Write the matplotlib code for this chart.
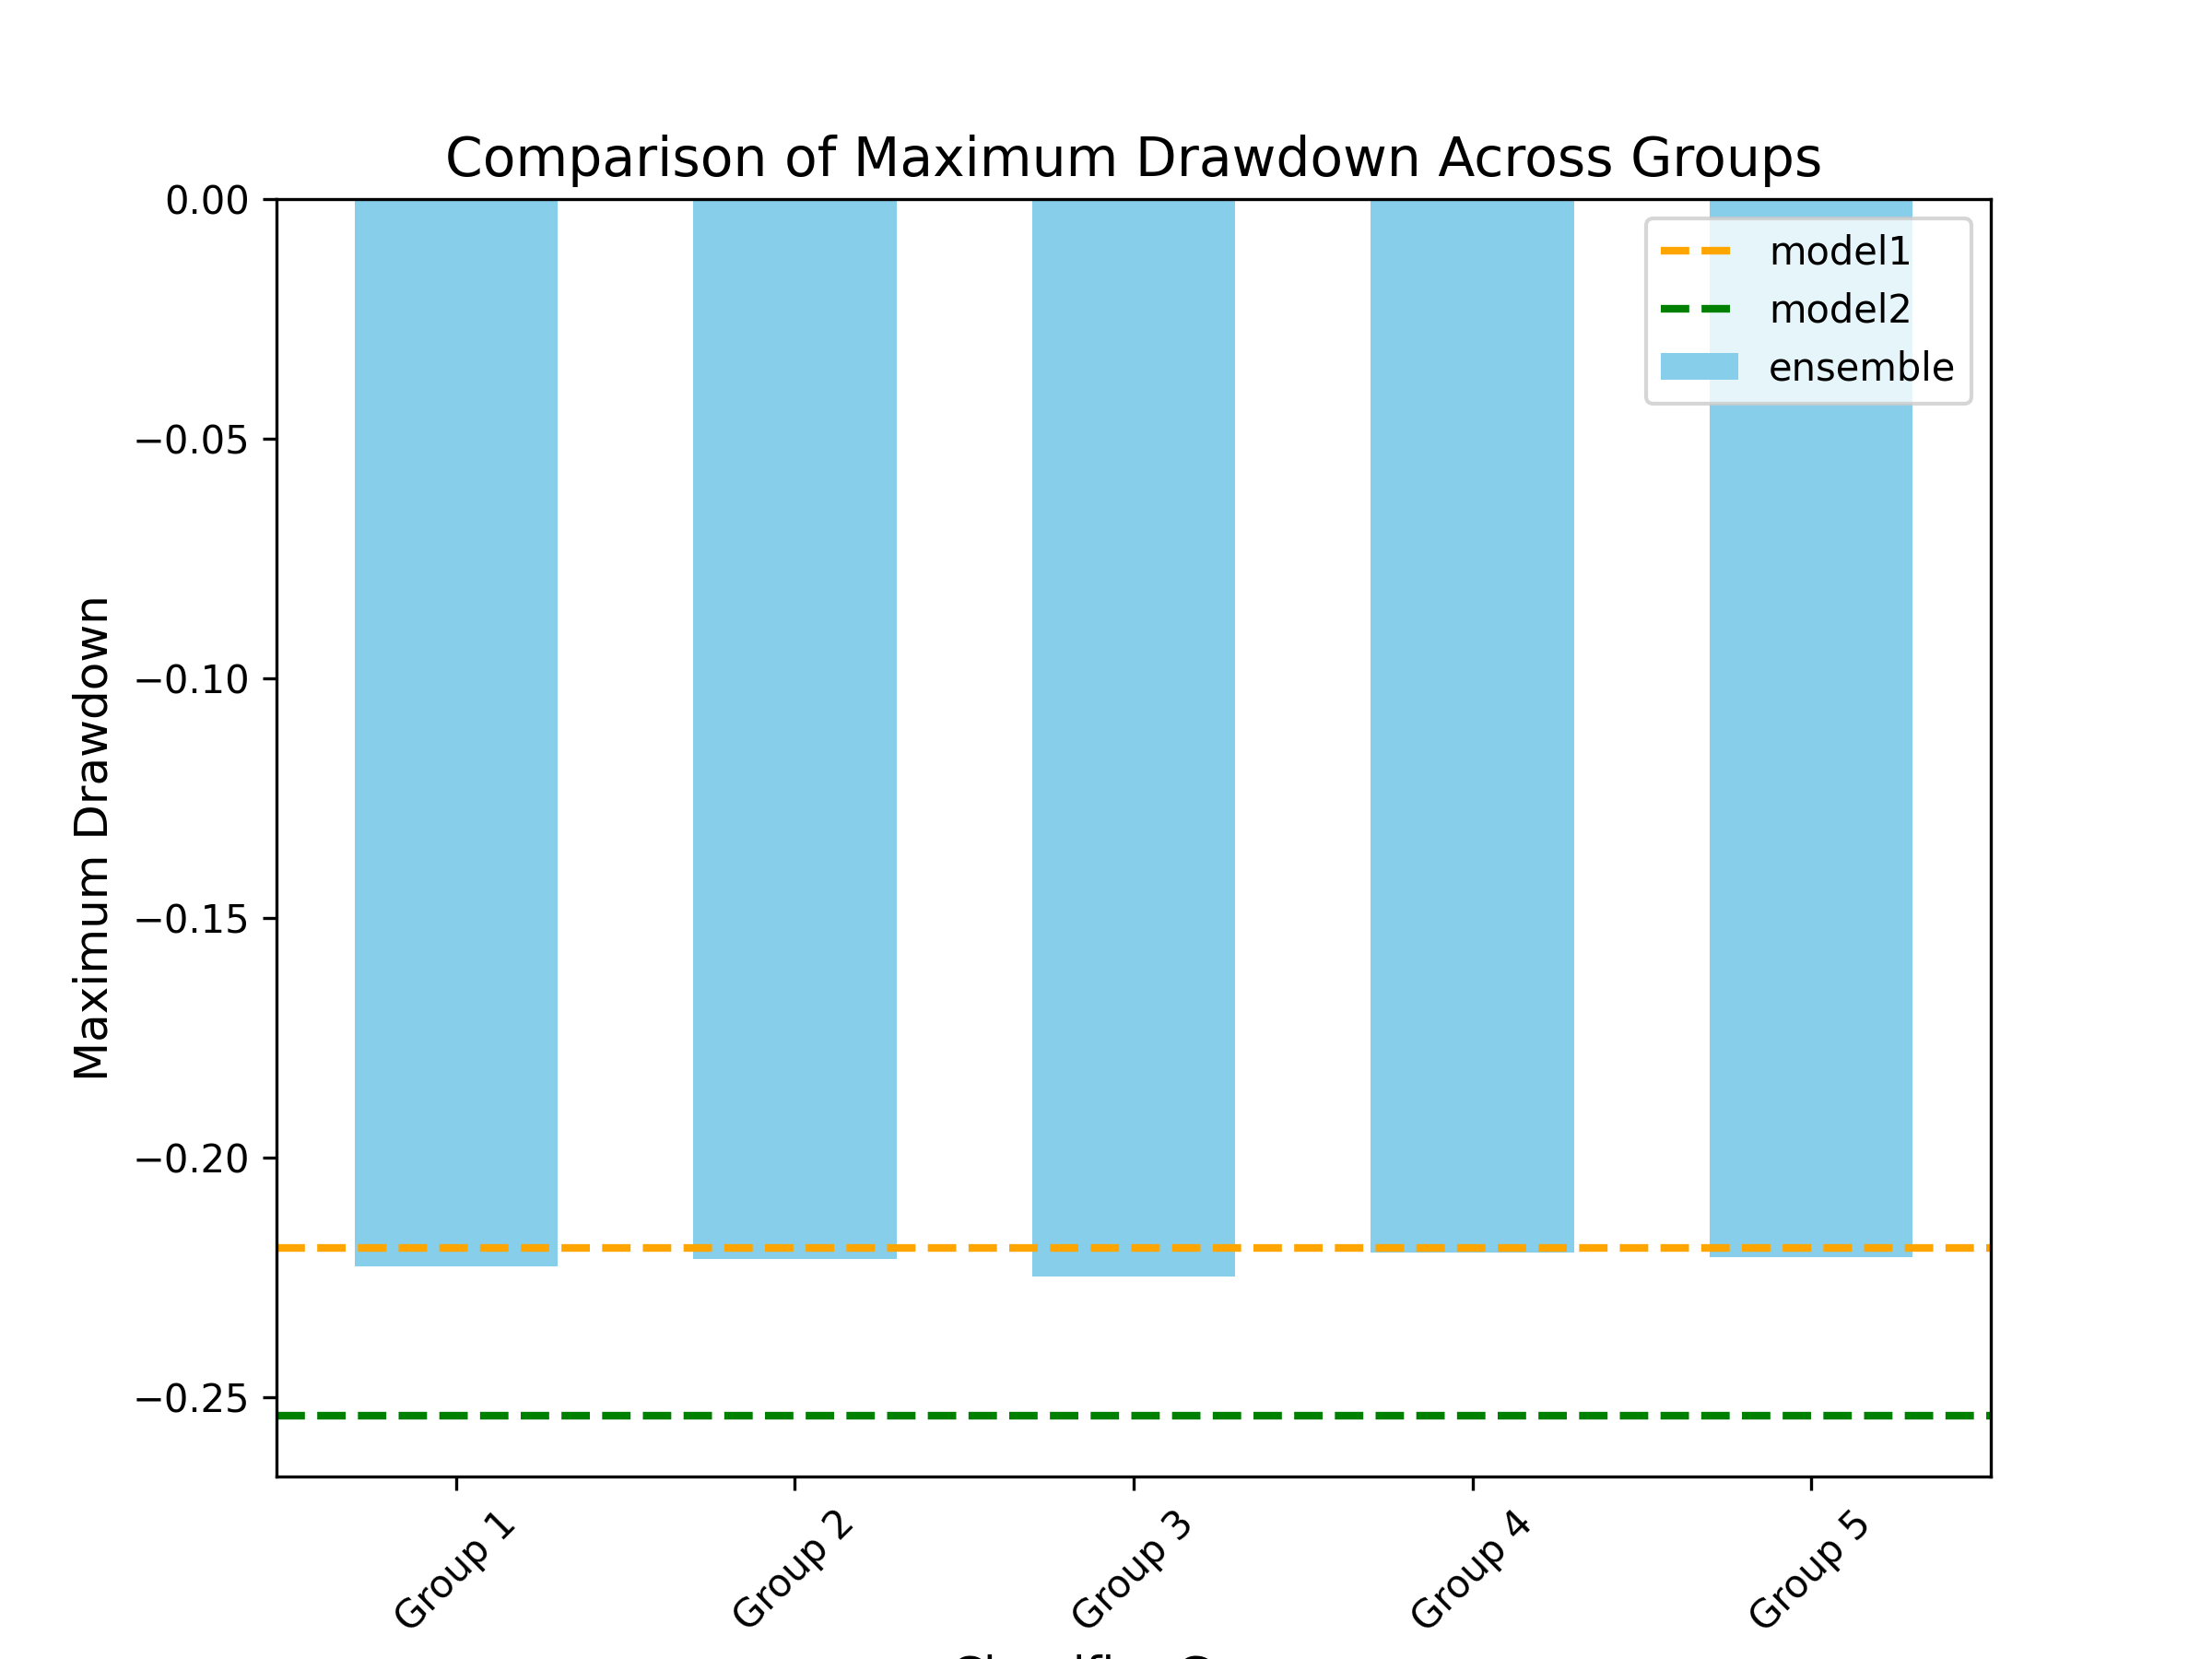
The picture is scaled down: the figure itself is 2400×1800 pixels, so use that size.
import numpy as np
import matplotlib
matplotlib.use("Agg")
import matplotlib.pyplot as plt

groups = ["Group 1", "Group 2", "Group 3", "Group 4", "Group 5"]
ensemble_mdd = [-0.2226, -0.2211, -0.2247, -0.2197, -0.2208]
model1_mdd = -0.2188
model2_mdd = -0.2538

fig, ax = plt.subplots(figsize=(8, 6))
x = np.arange(len(groups))
ax.bar(x, ensemble_mdd, width=0.6, color="skyblue", label="ensemble")
ax.axhline(model1_mdd, color="orange", linestyle="--", linewidth=2, label="model1")
ax.axhline(model2_mdd, color="green", linestyle="--", linewidth=2, label="model2")

ax.set_xticks(x)
ax.set_xticklabels(groups, rotation=45)
ax.set_xlabel("Classifier Group", fontsize=12)
ax.set_ylabel("Maximum Drawdown", fontsize=12)
ax.set_title("Comparison of Maximum Drawdown Across Groups", fontsize=14)
ax.legend(loc="upper right")

fig.savefig("out.png", dpi=300)
